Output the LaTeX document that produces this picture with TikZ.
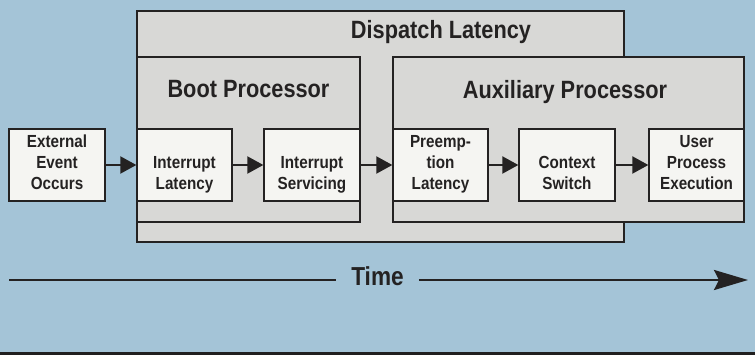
\documentclass[tikz,border=0pt]{standalone}
\usepackage{fontspec}
\setmainfont{Liberation Sans}[FakeStretch=0.87]
\usetikzlibrary{arrows.meta}
\definecolor{bgblue}{RGB}{164,196,215}
\definecolor{boxgrey}{RGB}{216,216,214}
\definecolor{boxwhite}{RGB}{245,245,242}
\definecolor{ink}{RGB}{36,34,34}
\begin{document}
\begin{tikzpicture}[x=1pt,y=-1pt,
  greybox/.style={draw=ink,line width=1.3pt,fill=boxgrey,inner sep=0pt,rectangle},
  stagebox/.style={draw=ink,line width=1.3pt,fill=boxwhite,inner sep=0pt,rectangle,minimum height=72pt},
  stagetext/.style={font=\bfseries\fontsize{17.5}{21.3}\selectfont,text=ink,align=center,inner sep=0pt,text depth=0pt,anchor=south},
  titletext/.style={font=\bfseries\fontsize{25}{28}\selectfont,text=ink,inner sep=0pt,anchor=base},
  flow/.style={draw=ink,line width=2pt,-{Triangle[length=16pt,width=17pt]}},
  timeline/.style={draw=ink,line width=2.6pt}]
% background
\fill[bgblue] (0,0) rectangle (755,355);
\fill[ink!90!black] (0,352) rectangle (755,355);
\useasboundingbox (0,0) rectangle (755,355);
% outer grouping boxes
\node[greybox,minimum width=487pt,minimum height=231pt] (disp) at (380.5,126.5) {};
\node[greybox,minimum width=223pt,minimum height=165pt] (boot) at (248.5,139.5) {};
\node[greybox,minimum width=351pt,minimum height=165pt] (aux) at (568.5,139.5) {};
\node[titletext] (dispt) at (441,39) {Dispatch Latency};
\node[titletext] (boott) at (248.5,98) {Boot Processor};
\node[titletext] (auxt) at (565,99) {Auxiliary Processor};
% stage boxes
\node[stagebox,minimum width=96pt] (ext) at (57,165) {};
\node[stagebox,minimum width=95pt] (il) at (184.5,165) {};
\node[stagebox,minimum width=96pt] (is) at (312,165) {};
\node[stagebox,minimum width=95pt] (pl) at (440.5,165) {};
\node[stagebox,minimum width=96pt] (cs) at (567,165) {};
\node[stagebox,minimum width=95pt] (up) at (696.5,165) {};
\node[stagetext] (extt) at (57,190) {External\\Event\\Occurs};
\node[stagetext] (ilt) at (184.5,190) {Interrupt\\Latency};
\node[stagetext] (ist) at (312,190) {Interrupt\\Servicing};
\node[stagetext] (plt) at (440.5,190) {Preemp-\\tion\\Latency};
\node[stagetext] (cst) at (567,190) {Context\\Switch};
\node[stagetext] (upt) at (696.5,190) {User\\Process\\Execution};
% flow arrows
\draw[flow] (ext.east) -- (il.west);
\draw[flow] (il.east) -- (is.west);
\draw[flow] (is.east) -- (pl.west);
\draw[flow] (pl.east) -- (cs.west);
\draw[flow] (cs.east) -- (up.west);
% time axis
\coordinate (tl) at (9,280);
\coordinate (tr) at (748,280);
\node[font=\bfseries\fontsize{26}{30}\selectfont,text=ink,anchor=base,inner xsep=15pt,inner ysep=0pt] (tm) at (377.5,286) {Time};
\draw[timeline] (tl) -- (tl -| tm.west);
\draw[timeline,-{Stealth[length=34pt,width=20pt,inset=5pt]}] (tr -| tm.east) -- (tr);
\end{tikzpicture}
\end{document}
